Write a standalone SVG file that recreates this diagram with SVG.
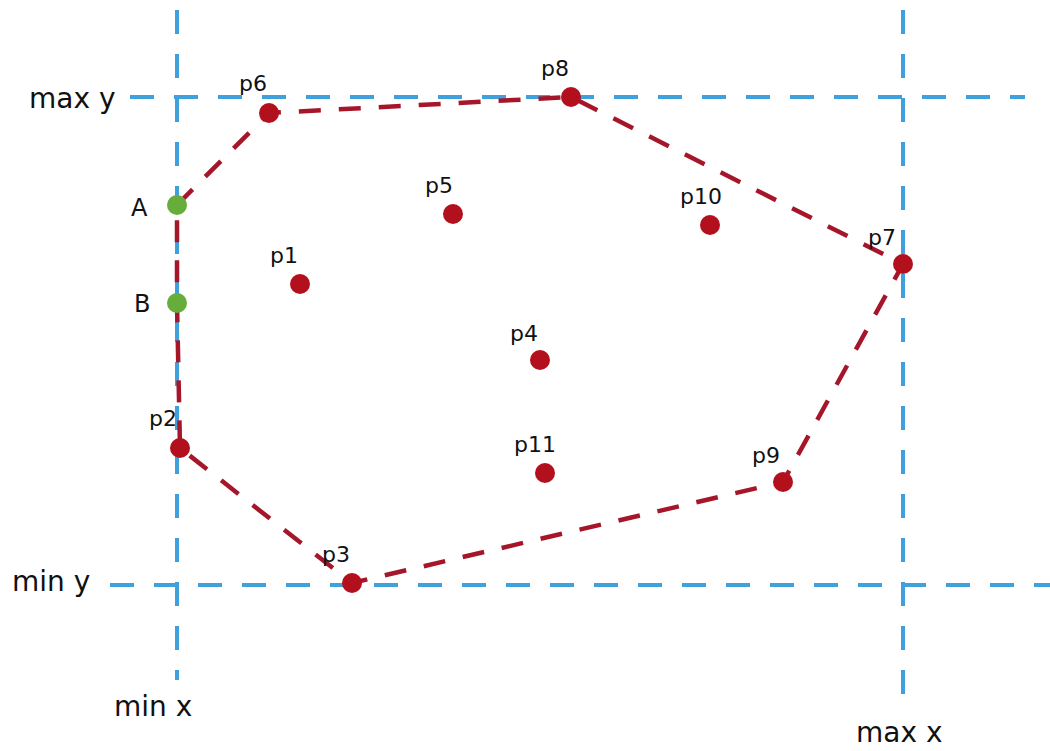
<svg xmlns="http://www.w3.org/2000/svg" width="1050" height="751" viewBox="0 0 1050 751">
<style>
.axis{stroke:#3fa0dc;stroke-width:4;stroke-dasharray:24 20;fill:none}
.hull{stroke:#a5162a;stroke-width:4.5;stroke-dasharray:22 18;fill:none}
.pt{fill:#b3101e}
.gp{fill:#66ad3c}
.lbl{font-family:"DejaVu Sans",sans-serif;font-size:22px;fill:#111}
.ax{font-family:"DejaVu Sans",sans-serif;font-size:28px;fill:#111}
</style>
<rect width="1050" height="751" fill="#fff"/>
<g id="axes">
<line class="axis" x1="177" y1="10" x2="177" y2="680"/>
<line class="axis" x1="903" y1="10" x2="903" y2="712"/>
<line class="axis" x1="130" y1="97" x2="1025" y2="97"/>
<line class="axis" x1="110" y1="585" x2="1050" y2="585"/>
</g>
<g id="connectors">
<polyline class="hull" points="177,205 269,113 571,97 903,264 783,482 352,583 180,448 177,303 177,205"/>
</g>
<g id="p6"><circle class="pt" cx="269" cy="113" r="10"/><text class="lbl" x="239" y="91">p6</text></g>
<g id="p8"><circle class="pt" cx="571" cy="97" r="10"/><text class="lbl" x="541" y="76">p8</text></g>
<g id="p5"><circle class="pt" cx="453" cy="214" r="10"/><text class="lbl" x="425" y="193">p5</text></g>
<g id="p10"><circle class="pt" cx="710" cy="225" r="10"/><text class="lbl" x="680" y="204">p10</text></g>
<g id="p7"><circle class="pt" cx="903" cy="264" r="10"/><text class="lbl" x="868" y="245">p7</text></g>
<g id="p1"><circle class="pt" cx="300" cy="284" r="10"/><text class="lbl" x="270" y="263">p1</text></g>
<g id="p4"><circle class="pt" cx="540" cy="360" r="10"/><text class="lbl" x="510" y="341">p4</text></g>
<g id="p2"><circle class="pt" cx="180" cy="448" r="10"/><text class="lbl" x="149" y="426">p2</text></g>
<g id="p11"><circle class="pt" cx="545" cy="473" r="10"/><text class="lbl" x="514" y="452">p11</text></g>
<g id="p9"><circle class="pt" cx="783" cy="482" r="10"/><text class="lbl" x="752" y="463">p9</text></g>
<g id="p3"><circle class="pt" cx="352" cy="583" r="10"/><text class="lbl" x="322" y="562">p3</text></g>
<g id="A"><circle class="gp" cx="177" cy="205" r="10"/><text class="lbl" x="131" y="216" style="font-size:24px">A</text></g>
<g id="B"><circle class="gp" cx="177" cy="303" r="10"/><text class="lbl" x="134" y="312" style="font-size:24px">B</text></g>
<g id="labels">
<text class="ax" x="29" y="108">max y</text>
<text class="ax" x="12" y="591">min y</text>
<text class="ax" x="114" y="716">min x</text>
<text class="ax" x="856" y="742">max x</text>
</g>
</svg>
